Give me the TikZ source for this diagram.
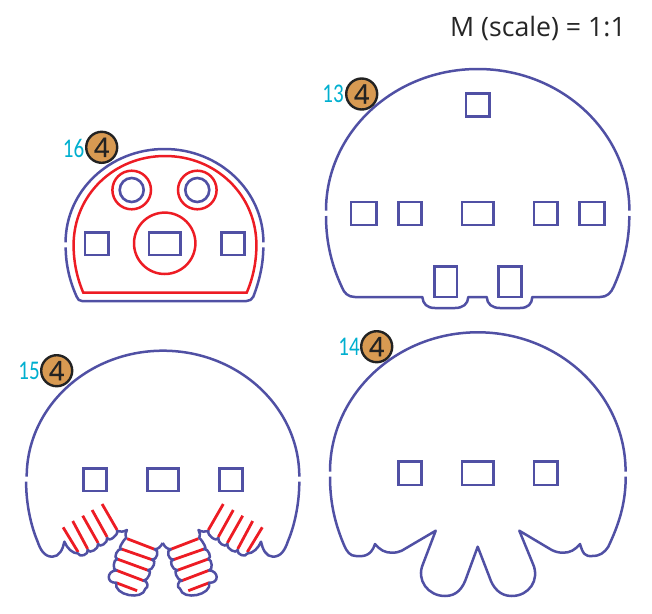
\documentclass[tikz,border=0pt]{standalone}
\usepackage{fontspec}
\setmainfont{Open Sans}
\newfontfamily\lblfont{Carlito}
\newfontfamily\ringfont[FakeBold=0.5]{Open Sans}
\definecolor{bluecut}{HTML}{5050A4}
\definecolor{redcut}{HTML}{ED1C24}
\definecolor{ringfill}{HTML}{D89A52}
\definecolor{lblcyan}{HTML}{00AFCF}
\definecolor{ringedge}{HTML}{222222}
\tikzset{
  bluecutline/.style={draw=bluecut,line width=2.5pt,line join=round},
  redcutline/.style={draw=redcut,line width=2.5pt,line join=miter},
  stripe/.style={draw=redcut,line width=2.8pt},
  slot/.style={draw=bluecut,line width=2.6pt},
  ringbadge/.style={circle,draw=ringedge,line width=2.4pt,fill=ringfill,minimum size=31pt,inner sep=0pt,font=\ringfont\fontsize{27}{27}\selectfont,text=ringedge},
  numlabel/.style={text=lblcyan,inner sep=0pt,font=\lblfont\fontsize{27}{27}\selectfont,xscale=.78},
  titlelabel/.style={inner sep=0pt,anchor=east,text=black!85,font=\fontsize{26.7}{27}\selectfont}
}
% cx, rx, top, yend : the upper half of the outline
\newcommand{\domearc}[4]{%
  \draw[bluecutline] ({#1-#2},#4) .. controls ({#1-#2},{#4-.5523*(#4-#3)}) and ({#1-.5523*#2},#3) .. (#1,#3)
    .. controls ({#1+.5523*#2},#3) and ({#1+#2},{#4-.5523*(#4-#3)}) .. ({#1+#2},#4);}
\newcommand{\slotrect}[4]{\draw[slot] (#1,#3) rectangle (#2,#4);}
% right half of the lower outline of part 15
\newcommand{\partfifteenhalf}{%
  \draw[stripe] (170.7,549.3) -- (198.3,538.7) (173.3,559.7) -- (204,549)
    (177.3,570.3) -- (208.3,559) (181.7,580.7) -- (209,570.3) (188.3,590.7) -- (209.3,582.7);
  \draw[stripe] (208.3,530) -- (223.3,504) (218.3,537) -- (233.3,510)
    (227.3,543) -- (242.7,515.7) (237.7,549) -- (252.7,521) (247.3,552) -- (262.3,527.3);
  \draw[bluecutline] (162.7,543) .. controls (165,547) and (167,549) .. (170.7,549.3)
   .. controls (165.7,549.8) and (168.3,560.2) .. (173.3,559.7)
   .. controls (168.3,559.7) and (172.3,570.3) .. (177.3,570.3)
   .. controls (172.8,569.8) and (177.2,580.2) .. (181.7,580.7)
   .. controls (178,580) and (176.3,588) .. (180,588.7)
   .. controls (182.8,601.1) and (212.1,595.1) .. (209.3,582.7)
   .. controls (219.3,583.4) and (219,571) .. (209,570.3)
   .. controls (213,570.7) and (212.3,559.4) .. (208.3,559)
   .. controls (212.4,558.1) and (208.1,548.1) .. (204,549)
   .. controls (208.1,550.3) and (202.4,540.3) .. (199.3,538)
   .. controls (200.5,535.5) and (200,532.5) .. (198.5,530)
   .. controls (202,532) and (205,532) .. (208.3,531)
   .. controls (207,535.5) and (217,542.5) .. (218.3,538)
   .. controls (217,542.5) and (226,548.5) .. (227.3,544)
   .. controls (226,548.5) and (236.4,554.5) .. (237.7,550)
   .. controls (236.4,554.5) and (246,558) .. (247.3,553.5)
   .. controls (253,553.5) and (258.5,548) .. (261,541.7)
   .. controls (262.5,549) and (266,556.7) .. (273,556.7)
   .. controls (281,556.7) and (285,550) .. (288,541)
   .. controls (294,527) and (299.3,505) .. (299.3,481.7);}
\begin{document}
\begin{tikzpicture}[x=1pt,y=-1pt]
\useasboundingbox (0,0) rectangle (652,613);
\node[titlelabel] (title) at (626,28) {M (scale) = 1:1};

% ---------- part 13
\domearc{477.7}{151.7}{69}{210.7}
\draw[bluecutline] (326,216) .. controls (326,245) and (333,268) .. (341.7,286.7)
  .. controls (344,293) and (348,297) .. (355,297) -- (422.3,297)
  .. controls (423,304) and (427,308) .. (435,308) -- (455,308)
  .. controls (463,308) and (468,304) .. (468.3,297) -- (486.7,297)
  .. controls (487,304) and (492,308) .. (500,308) -- (520,308)
  .. controls (528,308) and (532,304) .. (532.3,297) -- (600,297)
  .. controls (607,297) and (611,293) .. (613.7,286.7)
  .. controls (622,268) and (629.3,245) .. (629.3,216);
\slotrect{466}{489.3}{93.7}{116.7}
\slotrect{351}{376.3}{202}{225}
\slotrect{398.3}{421.7}{202}{225}
\slotrect{462}{493.3}{202}{225}
\slotrect{534}{557.3}{202}{225}
\slotrect{579.3}{604.7}{202}{225}
\slotrect{434.3}{457}{266.7}{297}
\slotrect{498.3}{521.7}{266.7}{297}
\node[ringbadge] (r13) at (361.7,94) {4};
\node[numlabel] (n13) at (333,94) {13};

% ---------- part 16
\domearc{164.5}{98.9}{149}{242.3}
\draw[bluecutline] (65.7,247.3) .. controls (65.7,265) and (70,282) .. (76.7,296.7)
  .. controls (78,299.5) and (79,301) .. (82,301) -- (246.5,301)
  .. controls (250,301) and (251.5,299.5) .. (253.3,296.7)
  .. controls (259,282) and (263.3,265) .. (263.3,247.3);
\draw[redcutline] (83.3,292.7) .. controls (77,278) and (73.6,262) .. (73.6,245)
  .. controls (73.6,195) and (114,156) .. (165,156)
  .. controls (216,156) and (256.4,195) .. (256.4,245)
  .. controls (256.4,262) and (253,278) .. (246.7,292.7) -- cycle;
\node[circle,draw=redcut,line width=2.5pt,minimum size=38.6pt,inner sep=0pt] (c16a) at (131.7,190) {};
\node[circle,draw=redcut,line width=2.5pt,minimum size=38.6pt,inner sep=0pt] (c16b) at (197.3,190) {};
\node[circle,draw=bluecut,line width=2.6pt,minimum size=24pt,inner sep=0pt] (h16a) at (131.7,190) {};
\node[circle,draw=bluecut,line width=2.6pt,minimum size=24pt,inner sep=0pt] (h16b) at (197.3,190) {};
\node[circle,draw=redcut,line width=2.5pt,minimum size=61.4pt,inner sep=0pt] (c16c) at (164.7,243.3) {};
\slotrect{85}{108.3}{232.3}{255}
\slotrect{149}{180.3}{232.3}{255}
\slotrect{221.7}{244.3}{232.3}{255}
\node[ringbadge] (r16) at (101.7,147.3) {4};
\node[numlabel] (n16) at (73.5,148) {16};

% ---------- part 15
\domearc{163}{136.3}{350.7}{476.7}
\partfifteenhalf
\begin{scope}[xshift=325.4pt,xscale=-1]
\partfifteenhalf
\end{scope}
\slotrect{83.3}{106.7}{468.3}{491}
\slotrect{147.3}{178.7}{468.3}{491}
\slotrect{219.3}{242.3}{468.3}{491}
\node[ringbadge] (r15) at (56.7,370.7) {4};
\node[numlabel] (n15) at (29,371) {15};

% ---------- part 14
\domearc{477.8}{147.8}{332.3}{471.7}
\draw[bluecutline] (330,476.7) .. controls (330,505) and (336,526) .. (344,545)
  .. controls (347,552) and (350,556) .. (356,556)
  .. controls (362,556.5) and (371,557) .. (375,544)
  .. controls (380,550) and (385,552.7) .. (391.7,552.7)
  .. controls (396,552.7) and (399,552) .. (401.7,550.7) -- (435.7,530.7) -- (423,564)
  .. controls (416,580) and (428,596) .. (445,596)
  .. controls (457,596) and (463,588) .. (466.7,576.7) -- (477.7,546.7) -- (489.3,576.7)
  .. controls (493,588) and (500,596) .. (511.7,596)
  .. controls (529,596) and (540,580) .. (533,564) -- (519.3,530.7) -- (551.7,550)
  .. controls (556,552) and (559,552.7) .. (563.3,552.7)
  .. controls (570,552.7) and (575,550) .. (580,544)
  .. controls (583,554) and (585,556.5) .. (592,556)
  .. controls (600,556) and (604,553) .. (608.3,546.7)
  .. controls (618,526) and (625.7,505) .. (625.7,476.7);
\slotrect{398.3}{421.3}{461.3}{485}
\slotrect{462}{493.7}{461.3}{485}
\slotrect{534}{557.7}{461.3}{485}
\node[ringbadge] (r14) at (376.7,346.7) {4};
\node[numlabel] (n14) at (349,347) {14};
\end{tikzpicture}
\end{document}
